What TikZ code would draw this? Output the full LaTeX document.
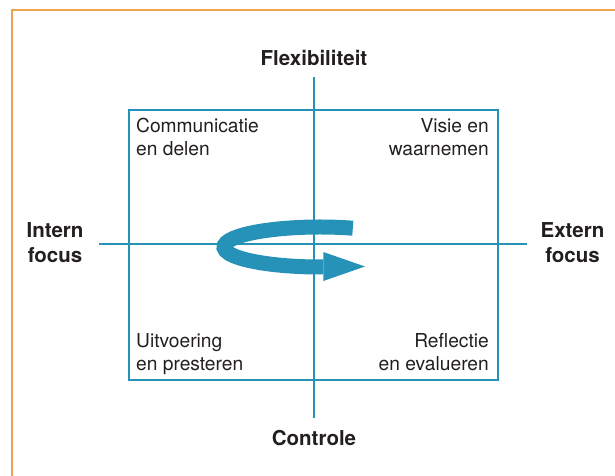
\documentclass[tikz,border=0pt]{standalone}
\usepackage{fontspec}
\setmainfont{TeX Gyre Heros}
\usetikzlibrary{positioning}
\definecolor{quadblue}{RGB}{38,146,184}
\definecolor{frameorange}{RGB}{240,162,84}
\definecolor{inkgray}{RGB}{35,31,32}
\tikzset{%
    axis/.style={quadblue,line width=2.6pt},%
    quadbox/.style={quadblue,line width=2.8pt},%
    cycle arrow/.style={quadblue,line width=15pt},%
    pole/.style={font=\fontsize{20.5}{25}\selectfont\bfseries,text=inkgray,align=center,inner sep=0pt},%
    quad/.style={font=\fontsize{19.2}{23}\selectfont,text=inkgray,inner sep=0pt}%
}
\begin{document}
\begin{tikzpicture}[x=1pt,y=1pt]
    \useasboundingbox (-314,244) rectangle (301,-231);
    \draw[frameorange,line width=2pt] (-301.5,234.5) rectangle (330,-260);
    % axes
    \coordinate (top) at (0,167);
    \coordinate (bottom) at (0,-174);
    \coordinate (left) at (-215,0);
    \coordinate (right) at (213,0);
    \coordinate (nw) at (-185,134);
    \coordinate (se) at (184,-136);
    \draw[quadbox] (nw) rectangle (se);
    \draw[axis] (top) -- (bottom);
    \draw[axis] (left) -- (right);
    % poles (base = last line)
    \node[pole,anchor=base] (flex) at (0,179) {Flexibiliteit};
    \node[pole,anchor=base] (ctrl) at (0,-201) {Controle};
    \node[pole,anchor=base] (intern) at (-259,-18) {Intern\\focus};
    \node[pole,anchor=base] (extern) at (258.5,-18) {Extern\\focus};
    % quadrants
    \node[quad,anchor=base west,align=left] (comm) at (-178,89) {Communicatie\\en delen};
    \node[quad,anchor=base east,align=right] (visie) at (175,89) {Visie en\\waarnemen};
    \node[quad,anchor=base west,align=left] (uitv) at (-178,-126) {Uitvoering\\en presteren};
    \node[quad,anchor=base east,align=right] (refl) at (175,-126) {Reflectie\\en evalueren};
    % cycle
    \draw[cycle arrow] (38.8,15.8) arc[start angle=70,end angle=272,x radius=96,y radius=20];
    \fill[quadblue] (9.3,-8) -- (51,-22.5) -- (9.3,-37) -- cycle;
\end{tikzpicture}
\end{document}
